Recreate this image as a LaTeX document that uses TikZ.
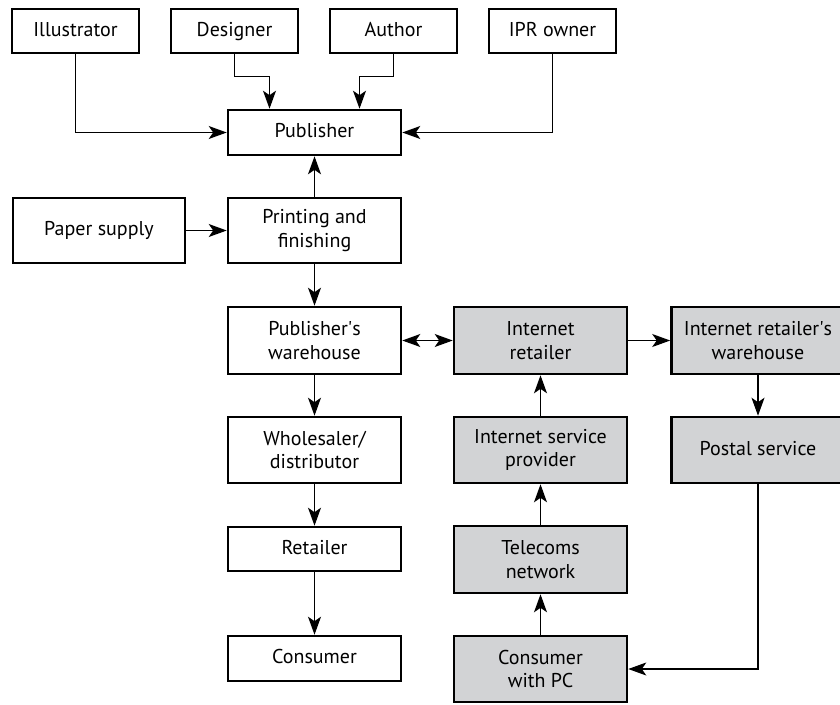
\documentclass[tikz,border=0pt]{standalone}
\usepackage{fontspec}
\setmainfont{PT Sans}
\usetikzlibrary{arrows.meta}
\definecolor{boxgray}{RGB}{210,211,213}
\begin{document}
\begin{tikzpicture}[x=1pt,y=-1pt,
  box/.style={draw, line width=2.6pt, inner sep=0pt, align=center,
    minimum width=173pt, font=\fontsize{20}{23.5}\selectfont},
  oneline/.style={text height=14pt, text depth=4pt},
  topbox/.style={box, oneline, minimum width=127pt, minimum height=44pt},
  netbox/.style={box, fill=boxgray},
  conn/.style={draw, line width=1.1pt, -{Stealth[length=18pt,width=13pt,inset=4.5pt]}},
  biconn/.style={draw, line width=1.1pt, {Stealth[length=18pt,width=13pt,inset=4.5pt]}-{Stealth[length=18pt,width=13pt,inset=4.5pt]}}]
\useasboundingbox (0,0) rectangle (840,704);

% contributors
\node[topbox] (illus) at (75.5,31) {Illustrator};
\node[topbox] (des)   at (234.5,31) {Designer};
\node[topbox] (auth)  at (393.5,31) {Author};
\node[topbox] (ipr)   at (552.5,31) {IPR owner};

% traditional chain
\node[box, oneline, minimum height=45pt] (pub) at (314.5,132.5) {Publisher};
\node[box, oneline, minimum width=172pt, minimum height=65pt] (paper) at (99,230.5) {Paper supply};
\node[box, minimum height=65pt] (print) at (314.5,230.5) {Printing and\\finishing};
\node[box, minimum height=67pt] (pw)   at (314.5,340.5) {Publisher\textquotesingle s\\warehouse};
\node[box, minimum height=66pt] (wh)   at (314.5,450) {Wholesaler/\\distributor};
\node[box, oneline, minimum height=44pt] (ret)  at (314.5,549) {Retailer};
\node[box, oneline, minimum height=45pt] (cons) at (314.5,658.5) {Consumer};

% internet chain
\node[netbox, minimum height=67pt] (ir)   at (540.5,340.5) {Internet\\retailer};
\node[netbox, minimum height=67pt] (irw)  at (758,340.5) {Internet retailer\textquotesingle s\\warehouse};
\node[netbox, minimum height=66pt] (isp)  at (540.5,450) {Internet service\\provider};
\node[netbox, oneline, minimum height=66pt] (post) at (758,450) {Postal service};
\node[netbox, minimum height=67pt] (tel)  at (540.5,559.5) {Telecoms\\network};
\node[netbox, minimum height=66pt] (cpc)  at (540.5,669) {Consumer\\with PC};

% connectors into the publisher
\draw[conn] (illus.south) |- (pub.west);
\draw[conn] (des.south) -- ++(0,22) -| ([xshift=-45pt]pub.north);
\draw[conn] (auth.south) -- ++(0,22) -| ([xshift=45pt]pub.north);
\draw[conn] (ipr.south) |- (pub.east);
\draw[conn] (print.north) -- (pub.south);
\draw[conn] (paper.east) -- (print.west);

% distribution
\draw[conn] (print.south) -- (pw.north);
\draw[conn] (pw.south) -- (wh.north);
\draw[conn] (wh.south) -- (ret.north);
\draw[conn] (ret.south) -- (cons.north);
\draw[biconn] (pw.east) -- (ir.west);
\draw[conn] (ir.east) -- (irw.west);
\draw[conn] (irw.south) -- (post.north);
\draw[conn] (isp.north) -- (ir.south);
\draw[conn] (tel.north) -- (isp.south);
\draw[conn] (cpc.north) -- (tel.south);
\draw[conn] (post.south) |- (cpc.east);
\end{tikzpicture}
\end{document}
